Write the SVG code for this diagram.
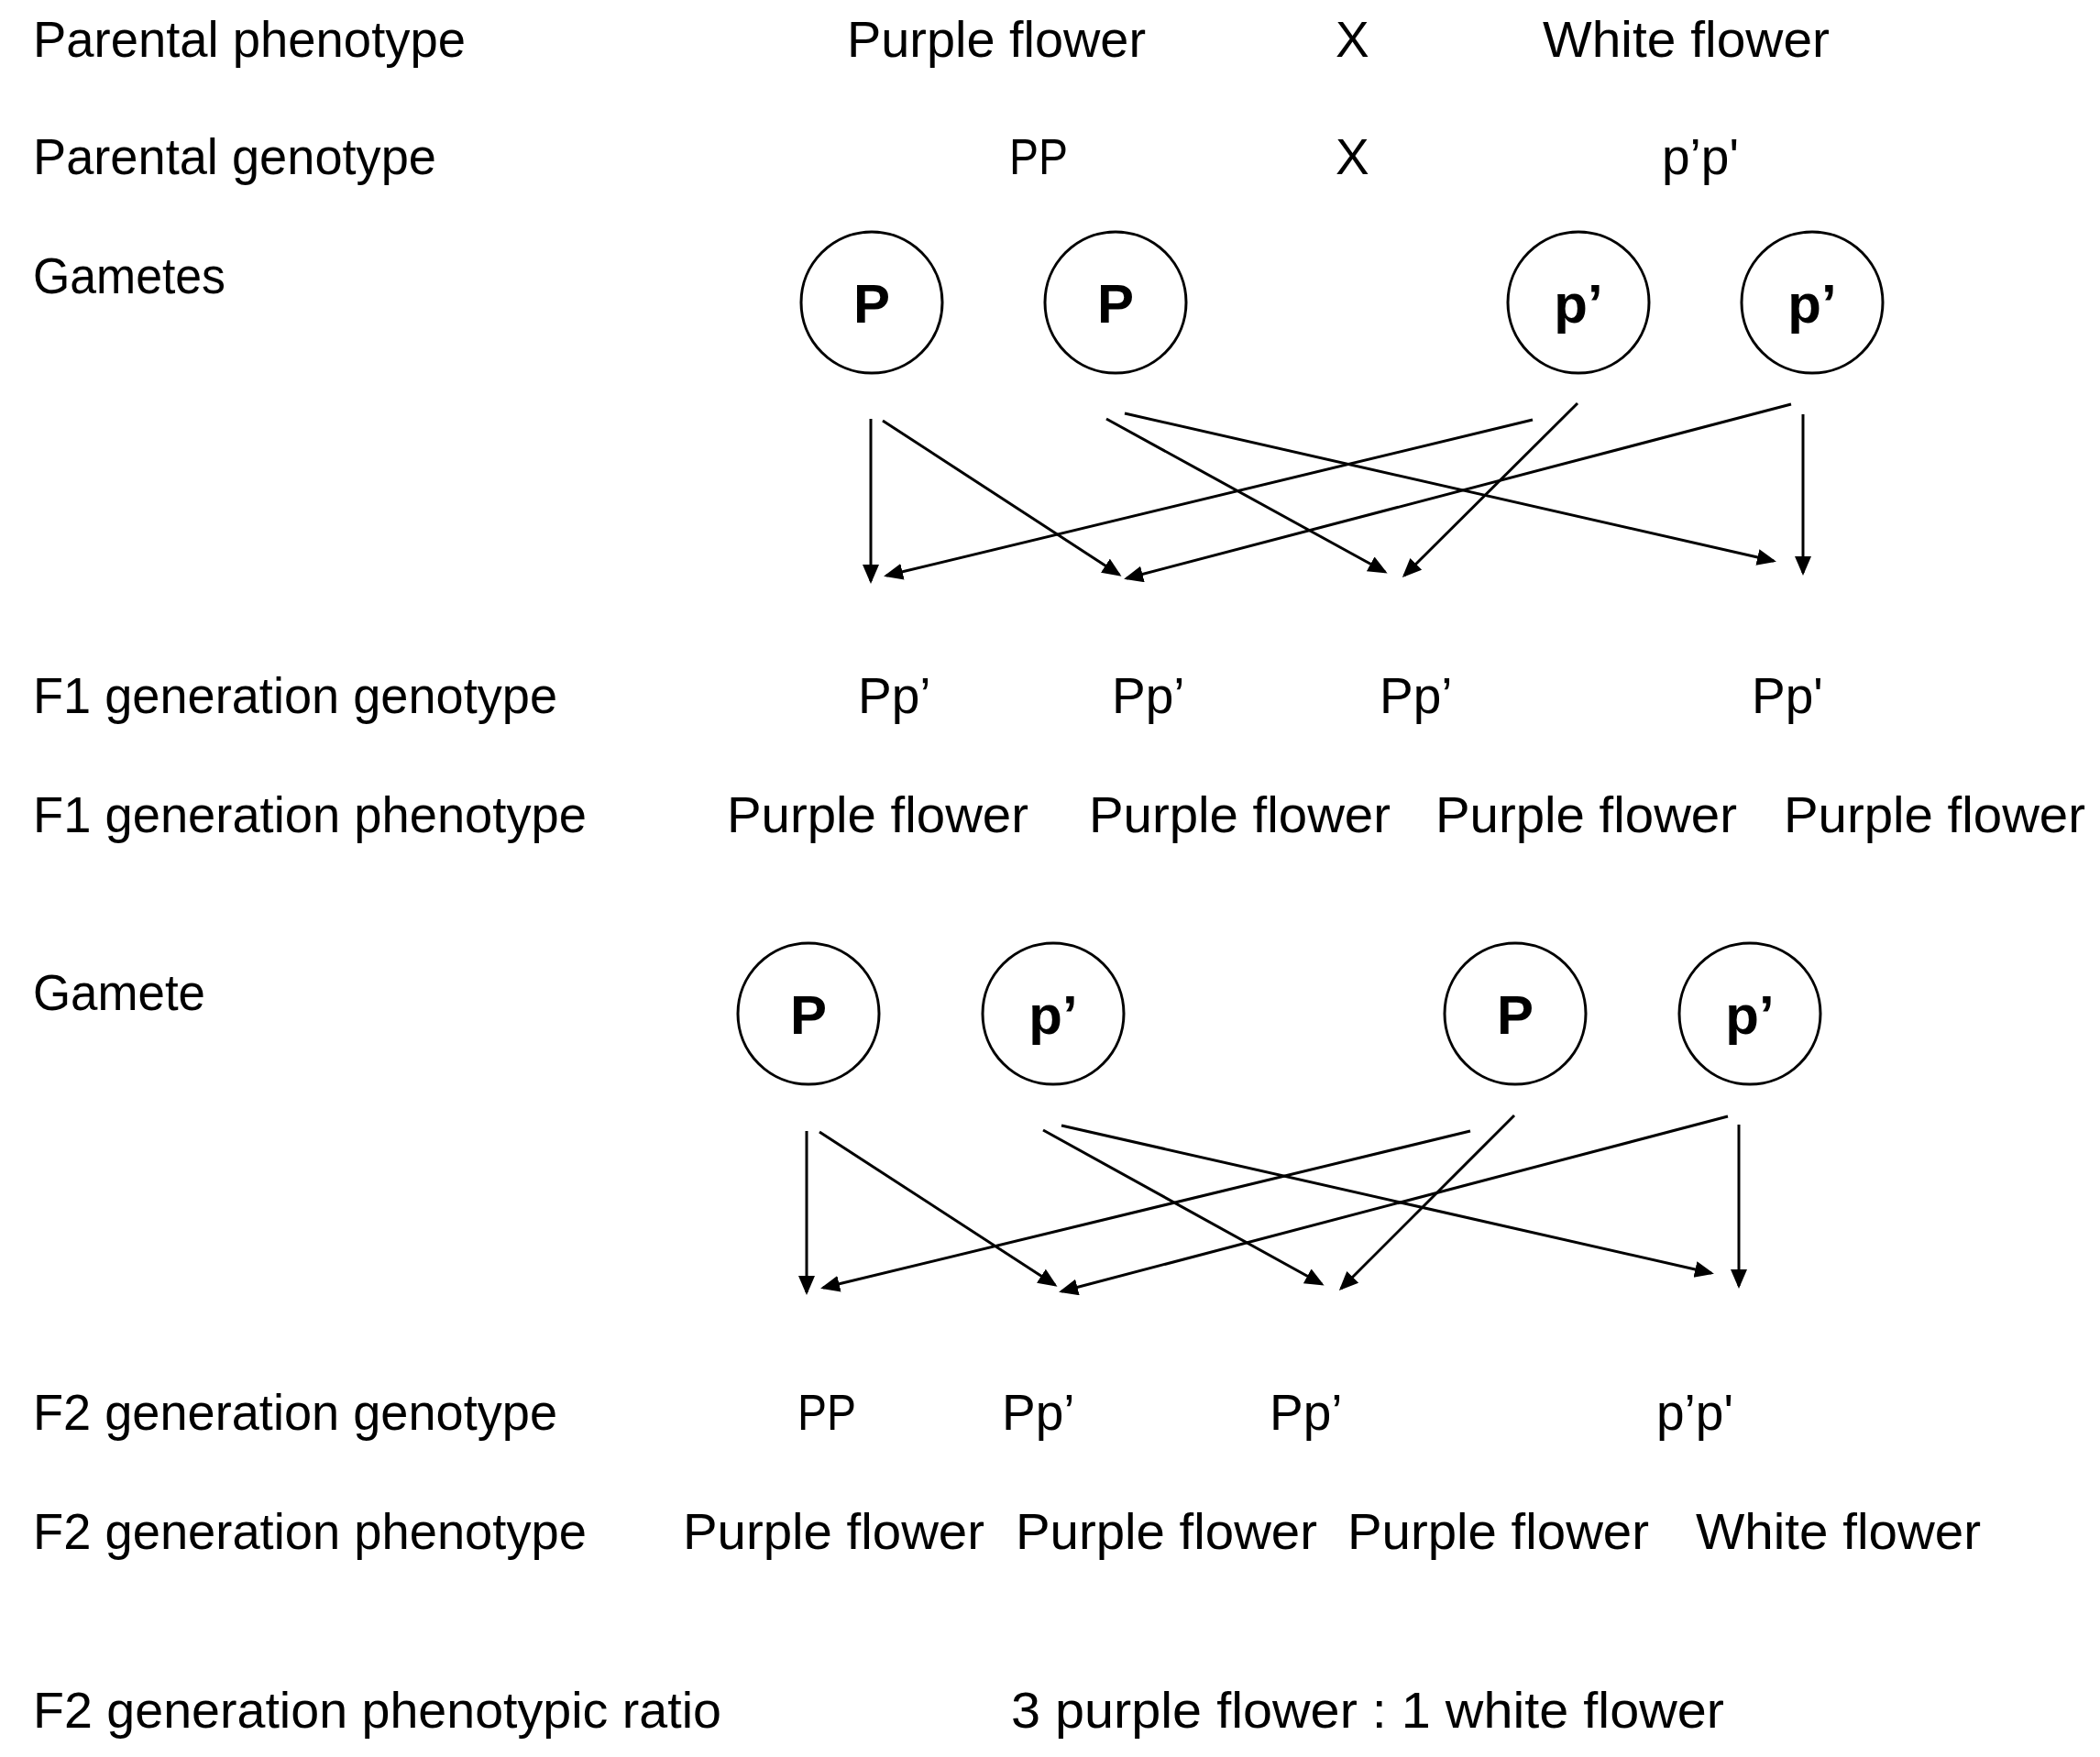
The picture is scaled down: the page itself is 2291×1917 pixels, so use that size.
<svg xmlns="http://www.w3.org/2000/svg" width="2291" height="1917" viewBox="0 0 2291 1917">
<style>
.t{font-family:"Liberation Sans",Arial,sans-serif;font-size:55px;fill:#000}
.g{font-family:"Liberation Sans",Arial,sans-serif;font-size:60px;font-weight:bold;fill:#000;text-anchor:middle}
.c{fill:#fff;stroke:#000;stroke-width:3}
.a{stroke:#000;stroke-width:3;fill:none;marker-end:url(#ah)}
</style>
<defs>
<marker id="ah" markerUnits="userSpaceOnUse" markerWidth="22" markerHeight="20" refX="18" refY="9" orient="auto">
<path d="M0,0 L21,9 L0,18 z" fill="#000"/>
</marker>
</defs>
<rect width="2291" height="1917" fill="#fff"/>
<g id="labels">
<text class="t" x="36" y="62" textLength="472" lengthAdjust="spacingAndGlyphs">Parental phenotype</text>
<text class="t" x="36" y="190" textLength="440" lengthAdjust="spacingAndGlyphs">Parental genotype</text>
<text class="t" x="36" y="320" textLength="210" lengthAdjust="spacingAndGlyphs">Gametes</text>
<text class="t" x="36" y="778" textLength="572" lengthAdjust="spacingAndGlyphs">F1 generation genotype</text>
<text class="t" x="36" y="908" textLength="604" lengthAdjust="spacingAndGlyphs">F1 generation phenotype</text>
<text class="t" x="36" y="1102" textLength="188" lengthAdjust="spacingAndGlyphs">Gamete</text>
<text class="t" x="36" y="1560" textLength="572" lengthAdjust="spacingAndGlyphs">F2 generation genotype</text>
<text class="t" x="36" y="1690" textLength="604" lengthAdjust="spacingAndGlyphs">F2 generation phenotype</text>
<text class="t" x="36" y="1885" textLength="751" lengthAdjust="spacingAndGlyphs">F2 generation phenotypic ratio</text>
</g>
<g id="parents">
<text class="t" x="924" y="62" textLength="326" lengthAdjust="spacingAndGlyphs">Purple flower</text>
<text class="t" x="1457" y="62">X</text>
<text class="t" x="1683" y="62" textLength="313" lengthAdjust="spacingAndGlyphs">White flower</text>
<text class="t" x="1101" y="190" textLength="64" lengthAdjust="spacingAndGlyphs">PP</text>
<text class="t" x="1457" y="190">X</text>
<text class="t" x="1813" y="190" textLength="84" lengthAdjust="spacingAndGlyphs">p’p'</text>
</g>
<g id="gamete-P1"><circle class="c" cx="951" cy="330" r="77"/><text class="g" x="951" y="352">P</text></g>
<g id="gamete-P2"><circle class="c" cx="1217" cy="330" r="77"/><text class="g" x="1217" y="352">P</text></g>
<g id="gamete-p1"><circle class="c" cx="1722" cy="330" r="77"/><text class="g" x="1722" y="352">p’</text></g>
<g id="gamete-p2"><circle class="c" cx="1977" cy="330" r="77"/><text class="g" x="1977" y="352">p’</text></g>
<g id="f1">
<text class="t" x="936" y="778">Pp’</text>
<text class="t" x="1213" y="778">Pp’</text>
<text class="t" x="1505" y="778">Pp’</text>
<text class="t" x="1911" y="778">Pp'</text>
<text class="t" x="793" y="908" textLength="329" lengthAdjust="spacingAndGlyphs">Purple flower</text>
<text class="t" x="1188" y="908" textLength="329" lengthAdjust="spacingAndGlyphs">Purple flower</text>
<text class="t" x="1566" y="908" textLength="329" lengthAdjust="spacingAndGlyphs">Purple flower</text>
<text class="t" x="1946" y="908" textLength="329" lengthAdjust="spacingAndGlyphs">Purple flower</text>
</g>
<g id="gamete2-P1"><circle class="c" cx="882" cy="1106" r="77"/><text class="g" x="882" y="1128">P</text></g>
<g id="gamete2-p1"><circle class="c" cx="1149" cy="1106" r="77"/><text class="g" x="1149" y="1128">p’</text></g>
<g id="gamete2-P2"><circle class="c" cx="1653" cy="1106" r="77"/><text class="g" x="1653" y="1128">P</text></g>
<g id="gamete2-p2"><circle class="c" cx="1909" cy="1106" r="77"/><text class="g" x="1909" y="1128">p’</text></g>
<g id="f2">
<text class="t" x="870" y="1560" textLength="64" lengthAdjust="spacingAndGlyphs">PP</text>
<text class="t" x="1093" y="1560">Pp’</text>
<text class="t" x="1385" y="1560">Pp’</text>
<text class="t" x="1807" y="1560" textLength="84" lengthAdjust="spacingAndGlyphs">p’p'</text>
<text class="t" x="745" y="1690" textLength="329" lengthAdjust="spacingAndGlyphs">Purple flower</text>
<text class="t" x="1108" y="1690" textLength="329" lengthAdjust="spacingAndGlyphs">Purple flower</text>
<text class="t" x="1470" y="1690" textLength="329" lengthAdjust="spacingAndGlyphs">Purple flower</text>
<text class="t" x="1850" y="1690" textLength="311" lengthAdjust="spacingAndGlyphs">White flower</text>
<text class="t" x="1103" y="1885" textLength="778" lengthAdjust="spacingAndGlyphs">3 purple flower : 1 white flower</text>
</g>
<g id="connectors">
<line class="a" x1="950" y1="457" x2="950" y2="634"/>
<line class="a" x1="963" y1="459" x2="1221" y2="627"/>
<line class="a" x1="1207" y1="457" x2="1511" y2="624"/>
<line class="a" x1="1227" y1="451" x2="1935" y2="612"/>
<line class="a" x1="1672" y1="458" x2="967" y2="628"/>
<line class="a" x1="1721" y1="440" x2="1532" y2="628"/>
<line class="a" x1="1954" y1="441" x2="1229" y2="631"/>
<line class="a" x1="1967" y1="452" x2="1967" y2="625"/>
<line class="a" x1="880" y1="1234" x2="880" y2="1410"/>
<line class="a" x1="894" y1="1235" x2="1151" y2="1402"/>
<line class="a" x1="1138" y1="1233" x2="1442" y2="1401"/>
<line class="a" x1="1158" y1="1228" x2="1867" y2="1389"/>
<line class="a" x1="1604" y1="1234" x2="898" y2="1405"/>
<line class="a" x1="1652" y1="1217" x2="1463" y2="1406"/>
<line class="a" x1="1885" y1="1218" x2="1158" y2="1409"/>
<line class="a" x1="1897" y1="1227" x2="1897" y2="1403"/>
</g>
</svg>
